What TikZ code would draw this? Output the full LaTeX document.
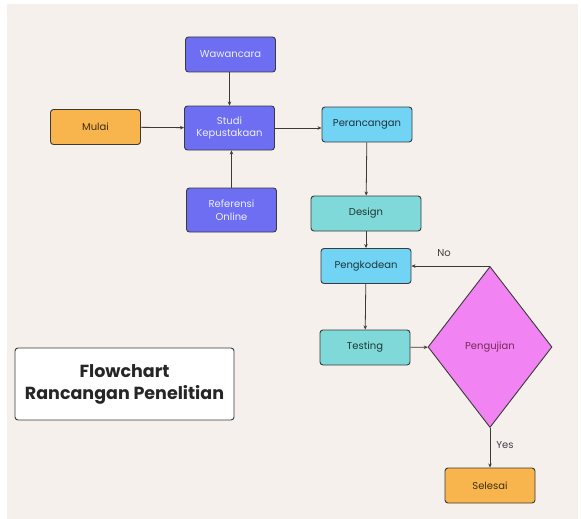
\documentclass[tikz,border=0pt]{standalone}
\usepackage{fontspec}
\setmainfont{Poppins}
\usetikzlibrary{shapes.geometric,arrows.meta}
\definecolor{bgc}{HTML}{F6F0EC}
\definecolor{purp}{HTML}{6E6EF2}
\definecolor{orng}{HTML}{F8B54E}
\definecolor{lblue}{HTML}{72D4F4}
\definecolor{teal}{HTML}{80D9D9}
\definecolor{pink}{HTML}{F283F2}
\definecolor{edge}{HTML}{3A3A3A}
\begin{document}
\begin{tikzpicture}[x=1pt,y=-1pt,
  box/.style={draw=edge,line width=0.9pt,rounded corners=3pt,inner sep=1pt,align=center,font=\fontsize{10}{12.5}\selectfont,minimum width=90pt,minimum height=35pt},
  pbox/.style={box,fill=purp,text=white!88!purp},
  obox/.style={box,fill=orng,text=black!75!orng},
  lbox/.style={box,fill=lblue,text=black!75!lblue},
  tbox/.style={box,fill=teal,text=black!75!teal},
  conn/.style={draw=edge,line width=0.8pt,-{Stealth[length=4pt,width=3.5pt]}},
  lab/.style={font=\fontsize{10}{12}\selectfont,text=black!75}]
\useasboundingbox (0,0) rectangle (581,519);
\fill[white] (0,0) rectangle (581,519);
\fill[bgc] (7,4) rectangle (578,519);
\node[pbox] (waw) at (230.5,54.5) {Wawancara};
\node[pbox,minimum height=44pt] (stu) at (229.5,128) {Studi\\Kepustakaan};
\node[obox] (mul) at (95.5,127) {Mulai};
\node[pbox,minimum height=44pt] (ref) at (231.5,210) {Referensi\\Online};
\node[lbox] (per) at (367,124.5) {Perancangan};
\node[tbox,minimum width=110pt] (des) at (366,213.5) {Design};
\node[lbox] (pkd) at (366,266) {Pengkodean};
\node[tbox] (tes) at (365,347.5) {Testing};
\node[diamond,draw=edge,line width=0.9pt,fill=pink,inner sep=0pt,minimum width=124pt,minimum height=161pt,text=black!60!pink!80!purple,font=\fontsize{10}{12}\selectfont] (uji) at (490,347) {Pengujian};
\node[obox] (sel) at (490,485.5) {Selesai};
\node[draw=edge,line width=0.9pt,fill=white,rounded corners=3pt,minimum width=219pt,minimum height=72pt,align=center,font=\fontsize{17.5}{22}\selectfont\bfseries,text=black!85] (tit) at (124.5,384) {Flowchart\\Rancangan Penelitian};
\draw[conn] (waw.south -| stu.north) -- (stu.north);
\draw[conn] (mul) -- (stu);
\draw[conn] (ref.north) -- (ref.north |- stu.south);
\draw[conn] (stu.east) -- (per.west |- stu.east);
\draw[conn] (per) -- (des);
\draw[conn] (des) -- (pkd);
\draw[conn] (pkd) -- (tes);
\draw[conn] (tes) -- (uji);
\draw[conn] (uji.north) -- (uji.north -| pkd.east);
\draw[conn] (uji) -- (sel);
\node[lab] (no) at (444,253) {No};
\node[lab] (yes) at (505,445) {Yes};
\end{tikzpicture}
\end{document}
